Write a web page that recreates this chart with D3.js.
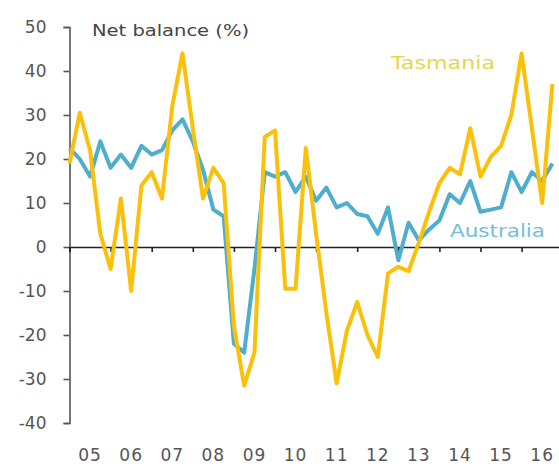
<!DOCTYPE html>
<html>
<head>
<meta charset="utf-8">
<script src="https://cdn.jsdelivr.net/npm/d3@7"></script>
<style>
body { margin: 0; background: #fff; }
svg { display: block; font-family: "DejaVu Sans", sans-serif; }
</style>
</head>
<body>
<svg id="chart"></svg>
<script>
// quarterly, 2005 Q1 -> 2016 Q4
var startYear = 2005;
var tasmania = [19, 30.5, 22, 3, -5, 11, -10, 14, 17, 11, 32, 44,
	27, 11, 18, 14.5, -18, -31.5, -24, 25, 26.5, -9.5, -9.5, 22.5,
	3, -15, -31, -19, -12.5, -20, -25, -6, -4.5, -5.5, 1, 8,
	14.5, 18, 16.5, 27, 16, 20.5, 23, 30, 44, 27, 10, 37];
var australia = [22.5, 20, 16, 24, 18, 21, 18, 23, 21, 22, 26.5, 29,
	24, 17.5, 8.5, 7, -22, -24, -5, 17, 16, 17, 12.5, 16,
	10.5, 13.5, 9, 10, 7.5, 7, 3, 9, -3, 5.5, 1.5, 4,
	6, 12, 10, 15, 8, 8.5, 9, 17, 12.5, 17, 15, 19];
var years = [2005, 2006, 2007, 2008, 2009, 2010, 2011, 2012, 2013, 2014, 2015, 2016];
var yTicks = [50, 40, 30, 20, 10, 0, -10, -20, -30, -40];

var width = 559, height = 466;

var svg = d3.select("#chart")
	.attr("width", width)
	.attr("height", height);

var x = d3.scaleLinear()
	.domain([2005, 2017])
	.range([69.5, 562.7]);

var y = d3.scaleLinear()
	.domain([-40, 50])
	.range([423, 27]);

// axes
var yAxis = d3.axisLeft(y).tickValues(yTicks).tickSize(6).tickPadding(17)
	.tickFormat(function(d){return String(d);});
var gy = svg.append("g")
	.attr("transform", "translate(" + x(2005) + ",0)")
	.call(yAxis);
gy.select(".domain").attr("stroke", "#555").attr("stroke-width", 1.6);
gy.selectAll(".tick line").attr("stroke", "#555").attr("stroke-width", 1.6);
gy.selectAll(".tick text")
	.attr("fill", "#555")
	.style("font-size", "17px")
	.style("font-family", "DejaVu Sans");

var xAxis = d3.axisBottom(x).tickValues(years).tickSize(5).tickFormat("");
var gx = svg.append("g")
	.attr("transform", "translate(0," + y(0) + ")")
	.call(xAxis);
gx.select(".domain").attr("stroke", "#222").attr("stroke-width", 1.6);
gx.selectAll(".tick line").attr("stroke", "#222").attr("stroke-width", 1.6);

svg.append("g").selectAll("text")
	.data(years)
	.enter().append("text")
	.attr("x", function(d){return x(d + 0.5);})
	.attr("y", 461)
	.attr("text-anchor", "middle")
	.attr("fill", "#555")
	.style("font-size", "17px")
	.style("letter-spacing", "1px")
	.text(function(d){return d3.format("02")(d % 100);});

// lines
var line = d3.line()
	.x(function(d, i){return x(startYear + i / 4);})
	.y(function(d){return y(d);});

svg.append("path")
	.datum(australia)
	.attr("d", line)
	.attr("fill", "none")
	.attr("stroke", "#4eaecb")
	.attr("stroke-width", 4)
	.attr("stroke-linejoin", "round");

svg.append("path")
	.datum(tasmania)
	.attr("d", line)
	.attr("fill", "none")
	.attr("stroke", "#fbc10a")
	.attr("stroke-width", 4)
	.attr("stroke-linejoin", "round");

// labels
svg.append("text")
	.attr("x", 92)
	.attr("y", 36)
	.attr("fill", "#444")
	.style("font-size", "16px")
	.attr("textLength", 157)
	.attr("lengthAdjust", "spacingAndGlyphs")
	.text("Net balance (%)");

svg.append("text")
	.attr("x", 391)
	.attr("y", 69)
	.attr("fill", "#e6d54e")
	.style("font-size", "17px")
	.attr("textLength", 104)
	.attr("lengthAdjust", "spacingAndGlyphs")
	.text("Tasmania");

svg.append("text")
	.attr("x", 450)
	.attr("y", 237)
	.attr("fill", "#72c0d3")
	.style("font-size", "17px")
	.attr("textLength", 95)
	.attr("lengthAdjust", "spacingAndGlyphs")
	.text("Australia");
</script>
</body>
</html>
